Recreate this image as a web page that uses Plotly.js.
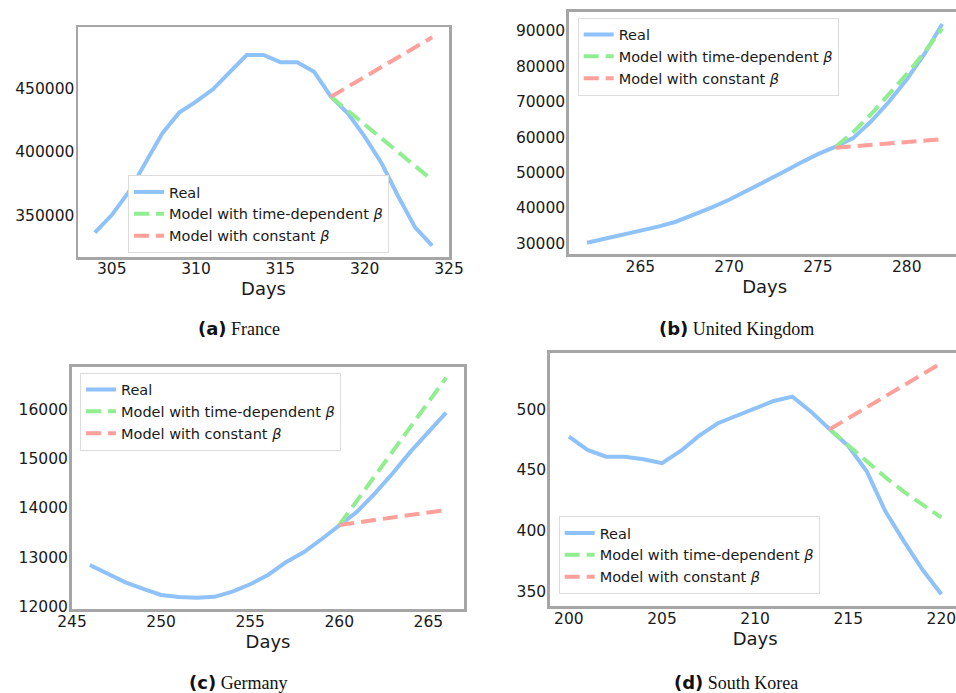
<!DOCTYPE html>
<html>
<head>
<meta charset="utf-8">
<script src="https://cdn.plot.ly/plotly-3.0.1.min.js"></script>
<style>
html,body{margin:0;padding:0;overflow:hidden;background:#fff;width:956px;height:693px;}
#chart{width:962px;height:693px;}
</style>
</head>
<body>
<div id="chart"></div>
<script>
// ---------- Data ----------
const franceDays = [304,305,306,307,308,309,310,311,312,313,314,315,316,317,318,319,320,321,322,323,324];
const franceReal = [336700,350500,368500,391400,414700,430900,439500,449200,463000,476100,476100,470500,470500,463000,443400,430400,412100,391200,364900,340600,326500];
const franceModelDays = [318,319,320,321,322,323,324];
const franceTimeDep = [443400,432500,421500,410600,399700,388900,378000];
const franceConst = [443400,451200,459000,466800,474500,482300,490000];

const ukDays = [262,263,264,265,266,267,268,269,270,271,272,273,274,275,276,277,278,279,280,281,282];
const ukReal = [30170,31300,32400,33500,34700,36100,38000,40100,42300,44800,47300,50000,52700,55200,57300,59800,64500,70000,76300,83500,92000];
const ukModelDays = [276,277,278,279,280,281,282];
const ukTimeDep = [57300,61500,66500,72000,77800,84000,90700];
const ukConst = [57000,57400,57800,58200,58600,59000,59400];

const deDays = [246,247,248,249,250,251,252,253,254,255,256,257,258,259,260,261,262,263,264,265,266];
const deReal = [12845,12680,12494,12360,12237,12195,12182,12200,12304,12454,12642,12900,13102,13366,13655,13925,14298,14703,15141,15546,15931];
const deModelDays = [260,261,262,263,264,265,266];
const deTimeDep = [13655,14150,14650,15150,15650,16150,16640];
const deConst = [13655,13705,13755,13805,13860,13910,13960];

const krDays = [200,201,202,203,204,205,206,207,208,209,210,211,212,213,214,215,216,217,218,219,220];
const krReal = [477.5,466.5,461,461,458.9,455.6,465.7,478.3,488.5,494.7,501.3,506.8,510.4,498,483.5,469.8,448.7,415.8,391.1,367.8,347.8];
const krModelDays = [214,215,216,217,218,219,220];
const krTimeDep = [483.5,470,457,444,432,421,411];
const krConst = [483.5,492.5,501.5,510.5,519.5,528.5,538];

const seriesNames = ['Real', 'Model with time-dependent <i>β</i>', 'Model with constant <i>β</i>'];
const captions = [['(a)','France'],['(b)','United Kingdom'],['(c)','Germany'],['(d)','South Korea']];

// ---------- Layout helpers ----------
const W = 962, H = 693;
const colors = ['#8ec2f8', '#90ee90', '#ffa09a'];
const font = 'DejaVu Sans, sans-serif';

const panels = [
  {days: franceDays, real: franceReal, md: franceModelDays, td: franceTimeDep, cs: franceConst,
   px: [78, 449], py: [27, 257], xr: [303, 325], yr: [317600, 498100], yt: [350000, 400000, 450000], xt: [305,310,315,320,325],
   leg: [128, 175], lw: 2.5, cap: [239, 328]},
  {days: ukDays, real: ukReal, md: ukModelDays, td: ukTimeDep, cs: ukConst,
   px: [569.3, 960], py: [11.7, 254], xr: [261, 283], yr: [26980, 95450], yt: [30000,40000,50000,60000,70000,80000,90000], xt: [265,270,275,280],
   leg: [577.7, 17.5], lw: 3, cap: [736, 328]},
  {days: deDays, real: deReal, md: deModelDays, td: deTimeDep, cs: deConst,
   px: [72, 464], py: [366.7, 609.3], xr: [245, 267], yr: [11947, 16863], yt: [12000,13000,14000,15000,16000], xt: [245,250,255,260,265],
   leg: [80, 372.5], lw: 3, cap: [238.5, 682]},
  {days: krDays, real: krReal, md: krModelDays, td: krTimeDep, cs: krConst,
   px: [550.3, 960], py: [353.3, 606], xr: [199, 221], yr: [338.2, 546], yt: [350,400,450,500], xt: [200,205,210,215,220],
   leg: [558.7, 516], lw: 3, cap: [736, 682]}
];

const traces = [];
const layout = {
  width: W, height: H,
  margin: {l: 0, r: 0, t: 0, b: 0},
  paper_bgcolor: '#fff', plot_bgcolor: '#fff',
  font: {family: font, color: '#1a1a1a'},
  showlegend: true,
  annotations: []
};

panels.forEach((p, i) => {
  const n = i + 1;
  const xa = n === 1 ? 'x' : 'x' + n;
  const ya = n === 1 ? 'y' : 'y' + n;
  const lg = n === 1 ? 'legend' : 'legend' + n;
  const ys = [p.real, p.td, p.cs];
  const xs = [p.days, p.md, p.md];
  for (let k = 0; k < 3; k++) {
    traces.push({
      type: 'scatter', mode: 'lines', x: xs[k], y: ys[k],
      xaxis: xa, yaxis: ya, legend: lg, name: seriesNames[k],
      line: {color: colors[k], width: 4, dash: k === 0 ? 'solid' : '15px,7px'},
      hoverinfo: 'skip'
    });
  }
  const axisCommon = {
    showline: true, mirror: true, linecolor: '#a6a6a6', linewidth: p.lw,
    showgrid: false, zeroline: false,
    ticks: '', ticklen: 0,
    tickfont: {family: font, size: 15.5, color: '#1a1a1a'},
    tickformat: 'd', fixedrange: true
  };
  layout['xaxis' + (n === 1 ? '' : n)] = Object.assign({}, axisCommon, {
    domain: [p.px[0] / W, p.px[1] / W], range: p.xr, tickvals: p.xt,
    anchor: ya, ticklabelstandoff: -4,
    title: {text: 'Days', font: {family: font, size: 18, color: '#1a1a1a'}, standoff: 0}
  });
  layout['yaxis' + (n === 1 ? '' : n)] = Object.assign({}, axisCommon, {
    domain: [1 - p.py[1] / H, 1 - p.py[0] / H], range: p.yr, tickvals: p.yt,
    anchor: xa, ticklabelstandoff: -2
  });
  layout[lg] = {
    x: p.leg[0] / W, y: 1 - p.leg[1] / H, xanchor: 'left', yanchor: 'top',
    xref: 'paper', yref: 'paper',
    bgcolor: '#ffffff', bordercolor: '#dcdcdc', borderwidth: 1,
    font: {family: font, size: 14.5, color: '#1a1a1a'},
    itemclick: false, itemdoubleclick: false
  };
  layout.annotations.push({
    xref: 'paper', yref: 'paper', x: p.cap[0] / W, y: 1 - p.cap[1] / H,
    xanchor: 'center', yanchor: 'middle', showarrow: false,
    text: '<span style="font-family:DejaVu Sans;font-weight:bold;">' + captions[i][0] + '</span> ' + captions[i][1],
    font: {family: 'Liberation Serif, serif', size: 18, color: '#111'}
  });
});

Plotly.newPlot('chart', traces, layout, {staticPlot: true, displayModeBar: false});
</script>
</body>
</html>
